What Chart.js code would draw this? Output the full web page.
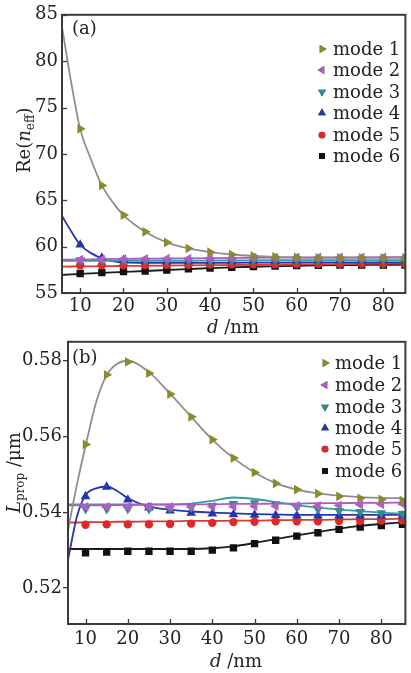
<!DOCTYPE html>
<html><head><meta charset="utf-8">
<script src="https://cdn.jsdelivr.net/npm/chart.js@4/dist/chart.umd.min.js"></script>
<style>
html,body{margin:0;padding:0;background:#fff;width:411px;height:673px;overflow:hidden;}
#wrapA{position:absolute;left:0;top:0;width:411px;height:335px;}
#wrapB{position:absolute;left:0;top:330px;width:411px;height:343px;}
canvas{display:block;}
</style></head><body>
<div id="wrapA"><canvas id="cA" width="411" height="335"></canvas></div>
<div id="wrapB"><canvas id="cB" width="411" height="343"></canvas></div>
<script>
// ---------- data ----------
const modeNames = ['mode 1', 'mode 2', 'mode 3', 'mode 4', 'mode 5', 'mode 6'];
const dValues = [10, 15, 20, 25, 30, 35, 40, 45, 50, 55, 60, 65, 70, 75, 80, 85];
const curveD = [5.8, 8, 10, 12.5, 15, 17.5, 20, 25, 30, 35, 40, 45, 50, 55, 60, 65, 70, 75, 80, 85];
const xTickLabels = [10, 20, 30, 40, 50, 60, 70, 80];
const yTicksA = [55, 60, 65, 70, 75, 80, 85];
const yTicksB = [0.52, 0.54, 0.56, 0.58];

// panel (a): Re(n_eff), markers
const reN1 = [72.7, 66.6, 63.4, 61.6, 60.45, 59.8, 59.4, 59.15, 59.0, 58.9, 58.85, 58.8, 58.8, 58.8, 58.8, 58.8];
const reN2 = [58.6, 58.62, 58.65, 58.68, 58.7, 58.72, 58.75, 58.78, 58.8, 58.82, 58.85, 58.85, 58.85, 58.85, 58.85, 58.85];
const reN3 = [58.55, 58.5, 58.5, 58.5, 58.5, 58.5, 58.5, 58.5, 58.52, 58.55, 58.55, 58.58, 58.6, 58.6, 58.6, 58.6];
const reN4 = [60.2, 58.8, 58.55, 58.45, 58.4, 58.4, 58.4, 58.42, 58.45, 58.45, 58.48, 58.5, 58.5, 58.5, 58.5, 58.5];
const reN5 = [58.0, 58.0, 58.0, 58.02, 58.05, 58.05, 58.08, 58.1, 58.1, 58.1, 58.12, 58.12, 58.15, 58.15, 58.15, 58.15];
const reN6 = [57.1, 57.2, 57.3, 57.37, 57.48, 57.6, 57.7, 57.78, 57.85, 57.9, 57.95, 57.98, 58.0, 58.0, 58.02, 58.02];
// panel (a): fitted curves (read at curveD)
const reNFit1 = [83.7, 77.5, 72.7, 69.4, 66.6, 64.8, 63.4, 61.6, 60.45, 59.8, 59.4, 59.15, 59.0, 58.9, 58.85, 58.8, 58.8, 58.8, 58.8, 58.8];
const reNFit2 = [58.6, 58.6, 58.62, 58.63, 58.65, 58.67, 58.68, 58.7, 58.72, 58.74, 58.76, 58.78, 58.8, 58.81, 58.82, 58.83, 58.84, 58.85, 58.86, 58.87];
const reNFit3 = [58.48, 58.48, 58.48, 58.48, 58.48, 58.48, 58.48, 58.48, 58.48, 58.48, 58.5, 58.51, 58.52, 58.53, 58.54, 58.55, 58.55, 58.55, 58.55, 58.55];
const reNFit4 = [63.3, 61.6, 60.2, 59.3, 58.75, 58.45, 58.3, 58.25, 58.25, 58.25, 58.25, 58.26, 58.27, 58.28, 58.29, 58.3, 58.3, 58.3, 58.3, 58.3];
const reNFit5 = [57.85, 57.86, 57.87, 57.88, 57.89, 57.9, 57.92, 57.94, 57.96, 57.98, 58.0, 58.02, 58.04, 58.06, 58.08, 58.1, 58.12, 58.14, 58.16, 58.18];
const reNFit6 = [56.95, 57.0, 57.05, 57.12, 57.18, 57.22, 57.27, 57.37, 57.48, 57.58, 57.68, 57.76, 57.83, 57.88, 57.93, 57.97, 58.0, 58.02, 58.04, 58.05];

// panel (b): L_prop, markers
const lp1 = [0.5579, 0.5763, 0.5797, 0.5767, 0.5712, 0.5652, 0.5592, 0.5543, 0.5505, 0.5476, 0.5460, 0.5449, 0.5442, 0.5437, 0.5434, 0.5431];
const lp2 = [0.5414, 0.5414, 0.5414, 0.5414, 0.5414, 0.5414, 0.5415, 0.5415, 0.5416, 0.5416, 0.5417, 0.5417, 0.5418, 0.5420, 0.5421, 0.5422];
const lp3 = [0.5409, 0.5409, 0.5409, 0.5409, 0.5410, 0.5413, 0.5417, 0.5422, 0.5424, 0.5421, 0.5414, 0.5408, 0.5404, 0.5401, 0.5398, 0.5396];
const lp4 = [0.5442, 0.5467, 0.5433, 0.5412, 0.5404, 0.5398, 0.5396, 0.5394, 0.5393, 0.5392, 0.5391, 0.5391, 0.5391, 0.5391, 0.5391, 0.5391];
const lp5 = [0.5367, 0.5368, 0.5368, 0.5368, 0.5369, 0.5370, 0.5372, 0.5374, 0.5375, 0.5376, 0.5376, 0.5376, 0.5377, 0.5377, 0.5378, 0.5379];
const lp6 = [0.5293, 0.5295, 0.5297, 0.5297, 0.5297, 0.5297, 0.5300, 0.5306, 0.5317, 0.5326, 0.5337, 0.5346, 0.5355, 0.5361, 0.5365, 0.5368];
// panel (b): fitted curves (read at curveD)
const lpFit1 = [0.5350, 0.5475, 0.5575, 0.5690, 0.5762, 0.5792, 0.5800, 0.5770, 0.5713, 0.5652, 0.5592, 0.5543, 0.5505, 0.5477, 0.5460, 0.5450, 0.5444, 0.5440, 0.5438, 0.5437];
const lpFit2 = [0.5418, 0.5418, 0.5418, 0.5418, 0.5419, 0.5419, 0.5419, 0.5420, 0.5420, 0.5421, 0.5421, 0.5422, 0.5422, 0.5423, 0.5423, 0.5424, 0.5424, 0.5425, 0.5425, 0.5426];
const lpFit3 = [0.5421, 0.5421, 0.5421, 0.5421, 0.5421, 0.5421, 0.5421, 0.5421, 0.5421, 0.5423, 0.5430, 0.5439, 0.5435, 0.5427, 0.5419, 0.5412, 0.5407, 0.5403, 0.5399, 0.5396];
const lpFit4 = [0.5272, 0.5390, 0.5445, 0.5463, 0.5468, 0.5456, 0.5437, 0.5415, 0.5407, 0.5402, 0.5399, 0.5397, 0.5395, 0.5394, 0.5393, 0.5393, 0.5393, 0.5393, 0.5393, 0.5393];
const lpFit5 = [0.5373, 0.5373, 0.5374, 0.5374, 0.5374, 0.5375, 0.5375, 0.5376, 0.5376, 0.5377, 0.5377, 0.5378, 0.5378, 0.5379, 0.5380, 0.5380, 0.5381, 0.5382, 0.5382, 0.5383];
const lpFit6 = [0.5303, 0.5303, 0.5303, 0.5303, 0.5303, 0.5303, 0.5303, 0.5303, 0.5303, 0.5303, 0.5305, 0.5310, 0.5319, 0.5329, 0.5339, 0.5348, 0.5357, 0.5364, 0.5369, 0.5373];

// ---------- styles ----------
const markerColors = ['#8c8a2c', '#b45cc6', '#2f8c8a', '#2535ad', '#e0282a', '#111111'];
const lineColors   = ['#8e8e8e', '#b05ac4', '#3a9c9a', '#2636ad', '#d83a3a', '#1c1c1c'];
const pointStyles  = ['triangle', 'triangle', 'triangle', 'triangle', 'circle', 'rect'];
const rotations    = [90, 270, 180, 0, 0, 0];
const pointSizes   = [5.6, 5.6, 5.6, 5.6, 4.2, 5.2];
const FONT = '"DejaVu Serif", "Liberation Serif", serif';
const INK = '#222';

function buildDatasets(markers, fits) {
  const ds = [];
  fits.forEach((arr, i) => ds.push({
    label: modeNames[i] + ' fit', data: curveD.map((d, k) => ({x: d, y: arr[k]})),
    showLine: true, borderColor: lineColors[i], borderWidth: 1.8, pointRadius: 0,
    tension: 0.4, cubicInterpolationMode: 'monotone', order: 1, clip: 0
  }));
  markers.forEach((arr, i) => ds.push({
    label: modeNames[i], data: dValues.map((d, k) => ({x: d, y: arr[k]})),
    showLine: false, backgroundColor: markerColors[i], borderWidth: 0,
    pointStyle: pointStyles[i], rotation: rotations[i], pointRadius: pointSizes[i],
    order: 0, clip: 0
  }));
  return ds;
}

function drawRich(ctx, segs) {
  let x = 0;
  segs.forEach(s => {
    ctx.font = (s.i ? 'italic ' : '') + s.s + 'px ' + FONT;
    ctx.fillText(s.t, x, s.dy || 0);
    x += ctx.measureText(s.t).width;
  });
}

const deco = {
  id: 'deco',
  afterDatasetsDraw(chart, args, o) {
    const {ctx, chartArea: ca, scales: {x, y}} = chart;
    ctx.save();
    ctx.strokeStyle = '#3a3a3a';
    ctx.lineWidth = 1.3;
    const tl = 5;
    if (o.inX) x.ticks.forEach(t => { const p = Math.round(x.getPixelForValue(t.value)) + 0.5; ctx.beginPath(); ctx.moveTo(p, ca.bottom); ctx.lineTo(p, ca.bottom - tl); ctx.stroke(); });
    if (o.inY) y.ticks.forEach(t => { const p = Math.round(y.getPixelForValue(t.value)) + 0.5; ctx.beginPath(); ctx.moveTo(ca.left, p); ctx.lineTo(ca.left + tl, p); ctx.stroke(); });
    ctx.lineWidth = 2;
    ctx.strokeRect(ca.left, ca.top, ca.right - ca.left, ca.bottom - ca.top);
    // panel label
    ctx.fillStyle = INK;
    ctx.textBaseline = 'middle';
    ctx.font = '18px ' + FONT;
    ctx.fillText(o.panel, o.panelX, o.panelY);
    // legend
    modeNames.forEach((name, i) => {
      const cy = o.legY[i];
      Chart.helpers.drawPoint(ctx, {pointStyle: pointStyles[i], rotation: rotations[i], radius: pointSizes[i] * 0.8, borderWidth: 0}, o.legMX, cy);
      ctx.fillStyle = markerColors[i];
      ctx.fill();
      ctx.fillStyle = INK;
      ctx.font = '18px ' + FONT;
      ctx.textBaseline = 'middle';
      ctx.fillText(name, o.legTX, cy + 1);
    });
    // x title
    ctx.textBaseline = 'alphabetic';
    ctx.save();
    ctx.translate(o.xtX, o.xtY);
    drawRich(ctx, [{t: 'd', s: 18, i: true}, {t: ' /nm', s: 18}]);
    ctx.restore();
    // y title
    ctx.save();
    ctx.translate(o.ytX, o.ytY);
    ctx.rotate(-Math.PI / 2);
    drawRich(ctx, o.ySegs);
    ctx.restore();
    ctx.restore();
  }
};

function makeChart(canvas, c) {
  return new Chart(canvas, {
    type: 'scatter',
    data: {datasets: buildDatasets(c.markers, c.fits)},
    options: {
      responsive: false, animation: false, devicePixelRatio: 1,
      layout: {padding: {top: c.padTop, right: c.padRight, left: 0, bottom: 0}},
      plugins: {legend: {display: false}, tooltip: {enabled: false}, deco: c.deco},
      scales: {
        x: {
          type: 'linear', min: c.xMin, max: c.xMax,
          afterBuildTicks: s => { s.ticks = xTickLabels.map(v => ({value: v})); },
          afterFit: s => { s.height = c.xH; },
          grid: {display: false, drawTicks: false}, border: {display: false},
          ticks: {font: {family: FONT, size: 18}, color: INK, padding: c.xPad, maxRotation: 0, autoSkip: false}
        },
        y: {
          type: 'linear', min: c.yMin, max: c.yMax,
          afterBuildTicks: s => { s.ticks = c.yTicks.map(v => ({value: v})); },
          afterFit: s => { s.width = c.yW; },
          grid: c.yGrid, border: {display: false},
          ticks: {font: {family: FONT, size: 18}, color: INK, padding: c.yPad, autoSkip: false, callback: c.yFmt}
        }
      }
    },
    plugins: [deco]
  });
}

makeChart(document.getElementById('cA'), {
  markers: [reN1, reN2, reN3, reN4, reN5, reN6],
  fits: [reNFit1, reNFit2, reNFit3, reNFit4, reNFit5, reNFit6],
  padTop: 11, padRight: 1, xH: 42, yW: 62, xPad: 3, yPad: 4,
  xMin: 5.8, xMax: 85.1, yMin: 55, yMax: 85, yTicks: yTicksA,
  yGrid: {display: false, drawTicks: false}, yFmt: v => String(v),
  deco: {inX: true, inY: true, panel: '(a)', panelX: 72, panelY: 29,
    legY: [49, 70, 92, 113, 135, 156], legMX: 322, legTX: 333,
    xtX: 207, xtY: 333, ytX: 30, ytY: 173,
    ySegs: [{t: 'Re(', s: 18}, {t: 'n', s: 18, i: true}, {t: 'eff', s: 12, dy: 4}, {t: ')', s: 18}]}
});

makeChart(document.getElementById('cB'), {
  markers: [lp1, lp2, lp3, lp4, lp5, lp6],
  fits: [lpFit1, lpFit2, lpFit3, lpFit4, lpFit5, lpFit6],
  padTop: 10, padRight: 3, xH: 49, yW: 68, xPad: 5, yPad: 1,
  xMin: 5.85, xMax: 85.7, yMin: 0.5105, yMax: 0.585, yTicks: yTicksB,
  yGrid: {display: true, drawOnChartArea: false, drawTicks: true, tickLength: 5, color: '#3a3a3a', lineWidth: 1.3},
  yFmt: v => v.toFixed(2),
  deco: {inX: true, inY: false, panel: '(b)', panelX: 72, panelY: 28,
    legY: [33, 55, 77, 98, 119, 141], legMX: 325, legTX: 335,
    xtX: 210, xtY: 337, ytX: 20, ytY: 183,
    ySegs: [{t: 'L', s: 18, i: true}, {t: 'prop', s: 12, dy: 4}, {t: ' /μm', s: 18}]}
});
</script>
</body></html>
